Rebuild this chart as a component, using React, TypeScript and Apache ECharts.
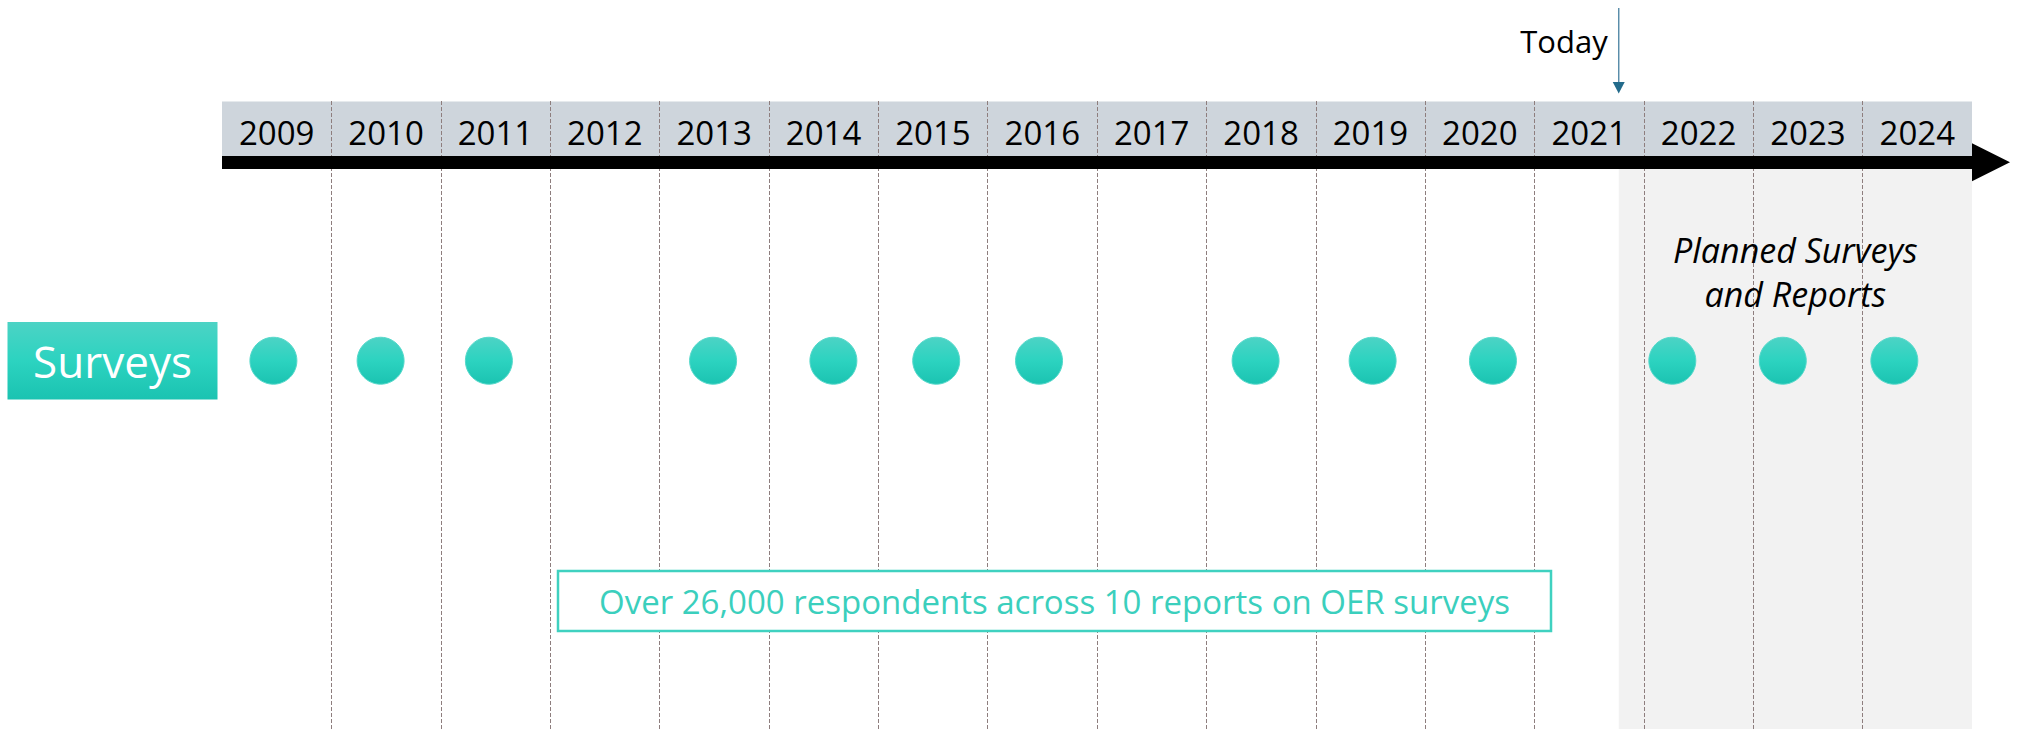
import React, { useEffect, useRef } from 'react';
import * as echarts from 'echarts';

// ---- data ----
const years = ['2009', '2010', '2011', '2012', '2013', '2014', '2015', '2016', '2017', '2018', '2019', '2020', '2021', '2022', '2023', '2024'];
const surveyYears = ['2009', '2010', '2011', '2013', '2014', '2015', '2016', '2018', '2019', '2020', '2022', '2023', '2024'];
// horizontal position of each survey marker on the timeline (in years)
const surveyPositions = [2008.97, 2009.95, 2010.94, 2012.99, 2014.09, 2015.03, 2015.97, 2017.95, 2019.02, 2020.12, 2021.76, 2022.77, 2023.79];
const todayPosition = 2021.27;
const timelineStart = 2008.5;
const timelineEnd = 2024.5;
const rowLabel = 'Surveys';
const todayLabel = 'Today';
const plannedLabel = ['Planned Surveys', 'and Reports'];
const summaryText = 'Over 26,000 respondents across 10 reports on OER surveys';

const FONT = 'Open Sans';
const TEAL_GRAD = () =>
  new echarts.graphic.LinearGradient(0, 0, 0, 1, [
    { offset: 0, color: '#4CD3C5' },
    { offset: 0.5, color: '#2CD3C0' },
    { offset: 1, color: '#1BC3B1' },
  ]);

export default function App() {
  const ref = useRef<HTMLDivElement>(null);
  useEffect(() => {
    if (!ref.current) return;
    const chart = echarts.init(ref.current, undefined, { renderer: 'svg' });
    const option: any = {
      animation: false,
      backgroundColor: '#ffffff',
      grid: [
        { left: 222, right: 48, top: 101, bottom: 0 },
        { left: 222, right: 48, top: 322, height: 77.5 },
      ],
      xAxis: [
        {
          type: 'category',
          gridIndex: 0,
          position: 'top',
          data: years,
          boundaryGap: true,
          axisLine: { show: false, onZero: false },
          axisTick: { show: false },
          axisLabel: {
            inside: true,
            margin: 31,
            verticalAlign: 'middle',
            fontSize: 33,
            fontFamily: FONT,
            color: '#000',
          },
          splitLine: {
            show: true,
            showMinLine: false,
            showMaxLine: false,
            lineStyle: { type: [4, 2], color: '#8E7E7E', width: 1 },
          },
          z: 1,
        },
        {
          type: 'value',
          gridIndex: 0,
          min: timelineStart,
          max: timelineEnd,
          position: 'top',
          offset: -61.2,
          axisLine: {
            show: true,
            onZero: false,
            lineStyle: { color: '#000', width: 13, cap: 'butt' },
            symbol: ['none', 'triangle'],
            symbolSize: [38, 38],
            symbolOffset: [0, 19],
          },
          axisTick: { show: false },
          axisLabel: { show: false },
          splitLine: { show: false },
          z: 2,
        },
        {
          type: 'value',
          gridIndex: 1,
          min: timelineStart,
          max: timelineEnd,
          show: false,
          axisLine: { onZero: false },
          splitLine: { show: false },
        },
      ],
      yAxis: [
        { type: 'value', gridIndex: 0, min: 0, max: 1, show: false, splitLine: { show: false } },
        {
          type: 'category',
          gridIndex: 1,
          data: [rowLabel],
          axisLine: { show: false },
          axisTick: { show: false },
          splitLine: { show: false },
          axisLabel: {
            margin: 4.5,
            formatter: '{box|' + rowLabel + '}',
            rich: {
              box: {
                width: 210,
                height: 77.5,
                lineHeight: 77.5,
                align: 'center',
                verticalAlign: 'middle',
                color: '#ffffff',
                fontSize: 44,
                fontFamily: FONT,
                backgroundColor: TEAL_GRAD(),
              },
            },
          },
        },
      ],
      series: [
        {
          type: 'scatter',
          name: rowLabel,
          xAxisIndex: 2,
          yAxisIndex: 1,
          symbol: 'circle',
          symbolSize: 47,
          itemStyle: { color: TEAL_GRAD(), borderColor: '#55D8CA', borderWidth: 1, opacity: 1 },
          data: surveyPositions.map((x, i) => ({ name: surveyYears[i], value: [x, rowLabel] })),
          z: 5,
        },
      ],
    };
    chart.setOption(option);

    const xToday = chart.convertToPixel({ xAxisIndex: 1 }, todayPosition) as number;
    const xStart = chart.convertToPixel({ xAxisIndex: 1 }, timelineStart) as number;
    const xEnd = chart.convertToPixel({ xAxisIndex: 1 }, timelineEnd) as number;

    chart.setOption({
      graphic: [
        {
          type: 'rect',
          z: -1,
          silent: true,
          shape: { x: xStart, y: 101.5, width: xEnd - xStart, height: 55 },
          style: { fill: '#CED5DC' },
        },
        {
          type: 'rect',
          z: -1,
          silent: true,
          shape: { x: xToday, y: 168.5, width: xEnd - xToday, height: 729 - 168.5 },
          style: { fill: '#F2F2F2' },
        },
        {
          type: 'line',
          z: 10,
          shape: { x1: xToday, y1: 8, x2: xToday, y2: 84 },
          style: { stroke: '#5A8DAA', lineWidth: 1.5 },
        },
        {
          type: 'polygon',
          z: 10,
          shape: { points: [[xToday - 6, 82], [xToday + 6, 82], [xToday, 93.5]] },
          style: { fill: '#236B8B' },
        },
        {
          type: 'text',
          z: 10,
          x: xToday - 11,
          y: 40.5,
          style: {
            text: todayLabel,
            font: `31px "${FONT}"`,
            fill: '#000',
            textAlign: 'right',
            textVerticalAlign: 'middle',
          },
        },
        {
          type: 'text',
          z: 10,
          x: (xToday + xEnd) / 2,
          y: 271.7,
          style: {
            text: plannedLabel.join('\n'),
            font: `italic 34px "${FONT}"`,
            lineHeight: 44.4,
            fill: '#000',
            textAlign: 'center',
            textVerticalAlign: 'middle',
          },
        },
        {
          type: 'rect',
          z: 10,
          shape: { x: 558, y: 571, width: 993, height: 60 },
          style: { fill: '#ffffff', stroke: '#3FD1C0', lineWidth: 2.5 },
        },
        {
          type: 'text',
          z: 11,
          x: 1054.5,
          y: 601,
          style: {
            text: summaryText,
            font: `33px "${FONT}"`,
            fill: '#3BCFBD',
            textAlign: 'center',
            textVerticalAlign: 'middle',
          },
        },
      ],
    });

    return () => chart.dispose();
  }, []);
  return (
    <div
      ref={ref}
      style={{ position: 'fixed', left: 0, top: 0, width: 2020, height: 729 }}
    />
  );
}
